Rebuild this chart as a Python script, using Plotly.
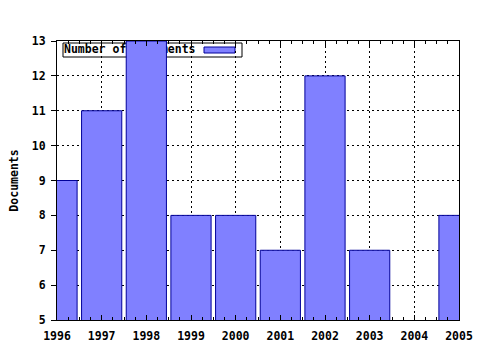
import plotly.graph_objects as go

years = [1996, 1997, 1998, 1999, 2000, 2001, 2002, 2003, 2004, 2005]
documents = [9, 11, 13, 8, 8, 7, 12, 7, None, 8]
series_name = "Number of documents"
y_title = "Documents"

FONT = dict(family="DejaVu Sans Mono", size=11.5, color="black", weight="bold")
BAR_FILL = "#8080FF"
BAR_LINE = "#000099"

L, R, T, B = 57, 21, 41, 30
W, H = 480, 350
pw, ph = W - L - R, H - T - B


def px_x(p):
    return (p - L) / pw


def px_y(p):
    return 1 - (p - T) / ph


fig = go.Figure()

# legend label (drawn in base subplot, beneath the bars)
fig.add_trace(go.Scatter(
    x=[1996 + (64 - L) / pw * 9], y=[13 - (50.5 - T) / ph * 8],
    mode="text", text=[series_name], textposition="middle right",
    textfont=FONT, showlegend=False, hoverinfo="skip",
    xaxis="x", yaxis="y", cliponaxis=False,
))

# bars in overlay subplot so they sit above the legend
fig.add_trace(go.Bar(
    x=years, y=documents, width=0.9,
    marker=dict(color=BAR_FILL, line=dict(color=BAR_LINE, width=1)),
    xaxis="x2", yaxis="y2", showlegend=False,
))

fig.update_layout(
    width=W, height=H,
    margin=dict(l=L, r=R, t=T, b=B, pad=0, autoexpand=False),
    paper_bgcolor="white", plot_bgcolor="white",
    font=FONT,
    showlegend=False,
    xaxis=dict(
        range=[1996, 2005], tickmode="linear", tick0=1996, dtick=1,
        showgrid=True, gridcolor="black", gridwidth=1, griddash="2px,3px",
        showline=True, linecolor="black", linewidth=1, mirror="ticks",
        ticks="inside", ticklen=5, tickcolor="black",
        minor=dict(dtick=0.25, ticks="inside", ticklen=3, tickcolor="black", showgrid=False),
        tickfont=FONT, zeroline=False, fixedrange=True, automargin=False,
        ticklabelstandoff=5,
    ),
    yaxis=dict(
        range=[5, 13], tickmode="linear", tick0=5, dtick=1,
        showgrid=True, gridcolor="black", gridwidth=1, griddash="2px,3px",
        showline=True, linecolor="black", linewidth=1, mirror=True,
        ticks="outside", ticklen=5, tickcolor="black",
        tickfont=FONT, zeroline=False, fixedrange=True, automargin=False,
        ticklabelstandoff=3,
        title=dict(text=y_title, font=FONT, standoff=10),
    ),
    xaxis2=dict(range=[1996, 2005], overlaying="x", visible=False, fixedrange=True),
    yaxis2=dict(range=[5, 13], overlaying="y", visible=False, fixedrange=True),
    shapes=[
        dict(type="rect", xref="paper", yref="paper",
             x0=px_x(63), x1=px_x(242), y0=px_y(57), y1=px_y(43),
             fillcolor="white", line=dict(color="black", width=1), layer="between"),
        dict(type="rect", xref="paper", yref="paper",
             x0=px_x(204), x1=px_x(235), y0=px_y(53), y1=px_y(47),
             fillcolor=BAR_FILL, line=dict(color=BAR_LINE, width=1), layer="between"),
    ],
)

fig.write_html("out.html")
